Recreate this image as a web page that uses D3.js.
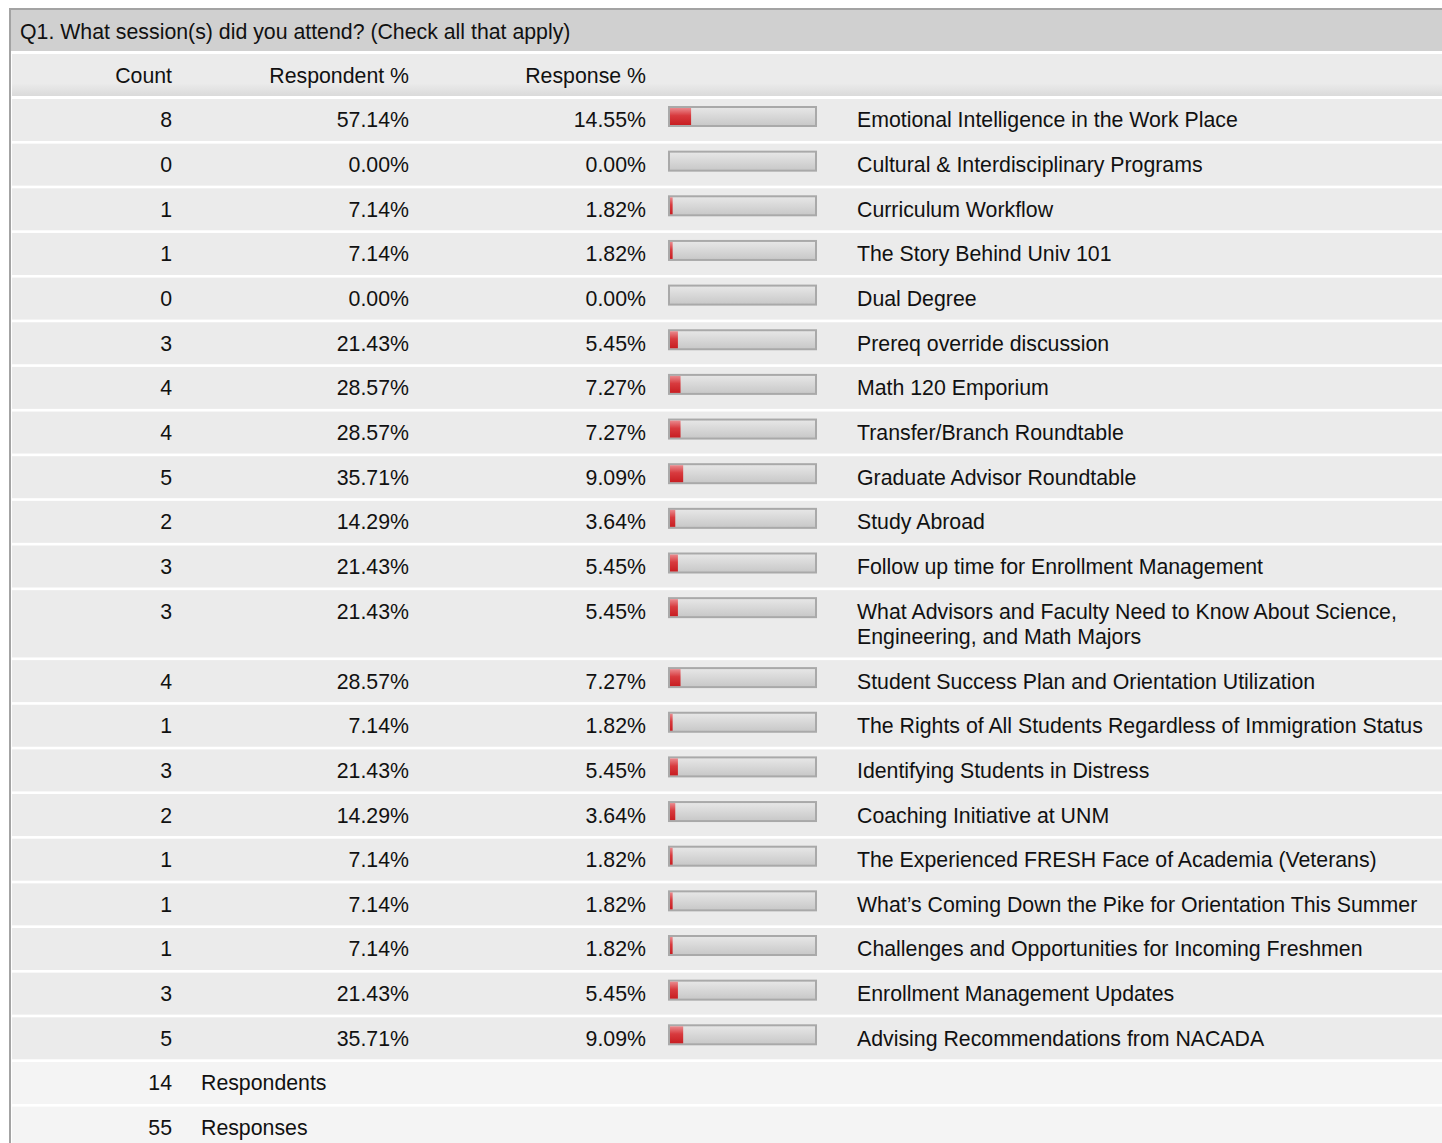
<!DOCTYPE html>
<html>
<head>
<meta charset="utf-8">
<script src="https://cdn.jsdelivr.net/npm/d3@7"></script>
<style>
  body { margin: 0; background: #fff; }
  svg text { font-family: "Liberation Sans", Arial, Helvetica, sans-serif; font-size: 21.3px; fill: #111; }
</style>
</head>
<body>
<svg id="chart" width="1442" height="1143"></svg>
<script>
// Survey data
const title = "Q1. What session(s) did you attend? (Check all that apply)";
const columns = ["Count", "Respondent %", "Response %"];
const sessions = [
  "Emotional Intelligence in the Work Place",
  "Cultural & Interdisciplinary Programs",
  "Curriculum Workflow",
  "The Story Behind Univ 101",
  "Dual Degree",
  "Prereq override discussion",
  "Math 120 Emporium",
  "Transfer/Branch Roundtable",
  "Graduate Advisor Roundtable",
  "Study Abroad",
  "Follow up time for Enrollment Management",
  "What Advisors and Faculty Need to Know About Science, Engineering, and Math Majors",
  "Student Success Plan and Orientation Utilization",
  "The Rights of All Students Regardless of Immigration Status",
  "Identifying Students in Distress",
  "Coaching Initiative at UNM",
  "The Experienced FRESH Face of Academia (Veterans)",
  "What\u2019s Coming Down the Pike for Orientation This Summer",
  "Challenges and Opportunities for Incoming Freshmen",
  "Enrollment Management Updates",
  "Advising Recommendations from NACADA"
];
const counts = [8, 0, 1, 1, 0, 3, 4, 4, 5, 2, 3, 3, 4, 1, 3, 2, 1, 1, 1, 3, 5];
const respondentPct = [57.14, 0.00, 7.14, 7.14, 0.00, 21.43, 28.57, 28.57, 35.71, 14.29, 21.43, 21.43, 28.57, 7.14, 21.43, 14.29, 7.14, 7.14, 7.14, 21.43, 35.71];
const responsePct = [14.55, 0.00, 1.82, 1.82, 0.00, 5.45, 7.27, 7.27, 9.09, 3.64, 5.45, 5.45, 7.27, 1.82, 5.45, 3.64, 1.82, 1.82, 1.82, 5.45, 9.09];
const totalLabels = ["Respondents", "Responses"];
const totalValues = [14, 55];

function drawTable(container) {
  const svg = d3.select(container);
  svg.selectAll("*").remove();

  const width = 1442;
  const left = 11;
  const rowH = 42, rowGap = 2.65, lineH = 25.3;
  const colCount = 172, colResp = 409, colPct = 646;
  const barX = 668, barW = 149, barH = 21, barPad = 2;
  const labelX = 857, labelMax = 580;

  // gradients
  const defs = svg.append("defs");
  const gRed = defs.append("linearGradient").attr("id", "gRed").attr("x1", 0).attr("y1", 0).attr("x2", 0).attr("y2", 1);
  gRed.append("stop").attr("offset", "0%").attr("stop-color", "#ea8a8e");
  gRed.append("stop").attr("offset", "45%").attr("stop-color", "#d83a3e");
  gRed.append("stop").attr("offset", "100%").attr("stop-color", "#c81e22");
  const gGrey = defs.append("linearGradient").attr("id", "gGrey").attr("x1", 0).attr("y1", 0).attr("x2", 0).attr("y2", 1);
  gGrey.append("stop").attr("offset", "0%").attr("stop-color", "#e6e6e6");
  gGrey.append("stop").attr("offset", "100%").attr("stop-color", "#c9c9c9");
  const gHead = defs.append("linearGradient").attr("id", "gHead").attr("x1", 0).attr("y1", 0).attr("x2", 0).attr("y2", 1);
  gHead.append("stop").attr("offset", "0%").attr("stop-color", "#ebebeb");
  gHead.append("stop").attr("offset", "70%").attr("stop-color", "#ebebeb");
  gHead.append("stop").attr("offset", "100%").attr("stop-color", "#dadada");

  // outer frame
  svg.append("rect").attr("x", 9).attr("y", 8).attr("width", width).attr("height", 1143).attr("fill", "#a3a3a3");
  svg.append("rect").attr("x", left).attr("y", 10).attr("width", width).attr("height", 1143).attr("fill", "#fff");

  // title band
  svg.append("rect").attr("x", left).attr("y", 10).attr("width", width).attr("height", 41).attr("fill", "#d0d0d0");
  svg.append("text").attr("x", 20).attr("y", 32).attr("dy", "0.35em").text(title);

  // column header
  svg.append("rect").attr("x", left + 1).attr("y", 54).attr("width", width).attr("height", 42).attr("fill", "url(#gHead)");
  const headX = [colCount, colResp, colPct];
  svg.append("g").selectAll("text").data(columns).join("text")
    .attr("x", (d, i) => headX[i]).attr("y", 76).attr("dy", "0.35em")
    .attr("text-anchor", "end").text(d => d);

  // bar scale (percent -> px inside the bar frame)
  const x = d3.scaleLinear().domain([0, 100]).range([0, barW - 2 * barPad]);

  // wrap labels
  const probe = svg.append("text").attr("visibility", "hidden");
  function wrap(str) {
    const words = str.split(" ");
    const lines = [];
    let cur = "";
    words.forEach(w => {
      const test = cur ? cur + " " + w : w;
      probe.text(test);
      if (cur && probe.node().getComputedTextLength() > labelMax) {
        lines.push(cur);
        cur = w;
      } else cur = test;
    });
    lines.push(cur);
    return lines;
  }

  const rows = sessions.map((s, i) => ({
    label: s, lines: wrap(s), count: counts[i], resp: respondentPct[i], pct: responsePct[i]
  }));
  probe.remove();
  let y = 99;
  rows.forEach(r => {
    r.top = y;
    r.h = rowH + (r.lines.length - 1) * lineH;
    y += r.h + rowGap;
  });

  const g = svg.append("g");
  const row = g.selectAll("g.row").data(rows).join("g")
    .attr("class", "row")
    .attr("transform", d => `translate(0,${d.top})`);

  row.append("rect").attr("x", left + 1).attr("width", width).attr("height", d => d.h).attr("fill", "#ebebeb");

  const cy = 21;
  row.append("text").attr("x", colCount).attr("y", cy).attr("dy", "0.35em").attr("text-anchor", "end").text(d => d.count);
  row.append("text").attr("x", colResp).attr("y", cy).attr("dy", "0.35em").attr("text-anchor", "end").text(d => d.resp.toFixed(2) + "%");
  row.append("text").attr("x", colPct).attr("y", cy).attr("dy", "0.35em").attr("text-anchor", "end").text(d => d.pct.toFixed(2) + "%");

  // bar frame + fill
  row.append("rect").attr("x", barX).attr("y", 7).attr("width", barW).attr("height", barH).attr("fill", "#a9a9a9");
  row.append("rect").attr("x", barX + barPad).attr("y", 7 + barPad)
    .attr("width", barW - 2 * barPad).attr("height", barH - 2 * barPad).attr("fill", "url(#gGrey)");
  row.append("rect").attr("x", barX + barPad).attr("y", 7 + barPad)
    .attr("width", d => x(d.pct)).attr("height", barH - 2 * barPad).attr("fill", "url(#gRed)");

  row.append("text").attr("x", labelX).attr("y", cy).attr("dy", "0.35em")
    .selectAll("tspan").data(d => d.lines).join("tspan")
    .attr("x", labelX).attr("dy", (d, i) => i === 0 ? "0.35em" : lineH + "px")
    .text(d => d);

  // totals
  const tot = g.selectAll("g.total").data(totalLabels).join("g")
    .attr("class", "total")
    .attr("transform", (d, i) => `translate(0,${y + i * (rowH + rowGap)})`);
  tot.append("rect").attr("x", left + 1).attr("width", width).attr("height", rowH).attr("fill", "#f4f4f4");
  tot.append("text").attr("x", colCount).attr("y", cy).attr("dy", "0.35em").attr("text-anchor", "end").text((d, i) => totalValues[i]);
  tot.append("text").attr("x", 201).attr("y", cy).attr("dy", "0.35em").text(d => d);
}

drawTable(document.querySelector("#chart"));
</script>
</body>
</html>
